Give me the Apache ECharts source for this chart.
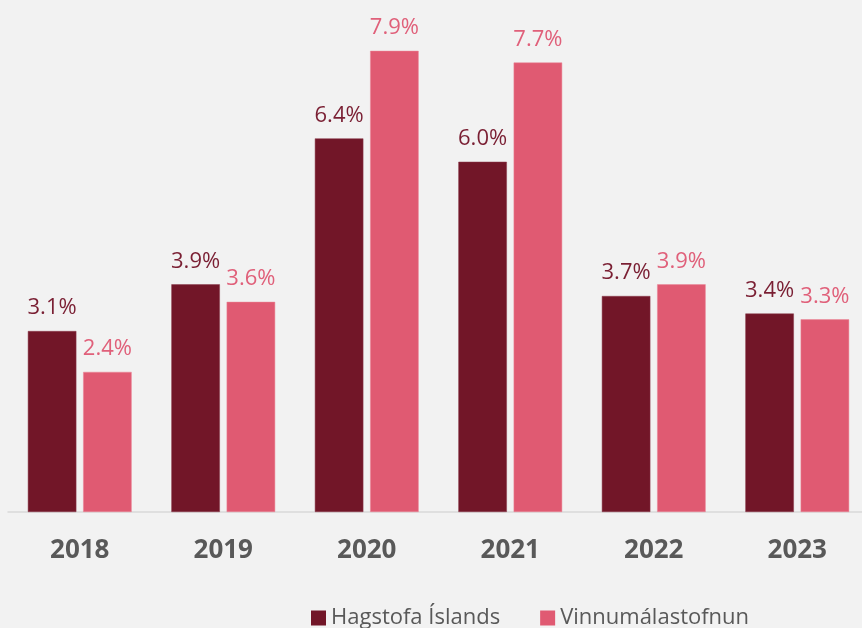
<!DOCTYPE html>
<html>
<head>
<meta charset="utf-8"/>
<script src="https://cdn.jsdelivr.net/npm/echarts@6/dist/echarts.min.js"></script>
<style>
  html, body { margin: 0; padding: 0; background: #f2f2f2; }
</style>
</head>
<body>
<div id="main" style="width: 862px; height: 628px;"></div>
<script type="text/javascript">
    var years = ['2018', '2019', '2020', '2021', '2022', '2023'];
    var hagstofa = [3.1, 3.9, 6.4, 6.0, 3.7, 3.4];
    var vinnumala = [2.4, 3.6, 7.9, 7.7, 3.9, 3.3];
    var seriesNames = ['Hagstofa Íslands', 'Vinnumálastofnun'];

    var myChart = echarts.init(document.getElementById('main'));

    var font = '"Open Sans", "Noto Sans", sans-serif';

    function barLabel(color) {
        return {
            show: true,
            position: 'top',
            distance: 12,
            color: color,
            fontFamily: font,
            fontSize: 22,
            formatter: function (p) { return p.value.toFixed(1) + '%'; }
        };
    }

    myChart.setOption({
        backgroundColor: '#f2f2f2',
        animation: false,
        grid: { left: 8, width: 861, top: 45, bottom: 116, outerBoundsMode: 'none' },
        legend: {
            top: 602,
            left: 306,
            icon: 'rect',
            itemWidth: 15,
            itemHeight: 15,
            itemGap: 40,
            itemStyle: { borderWidth: 0 },
            textStyle: { color: '#595959', fontFamily: font, fontSize: 22, padding: [0, 0, 0, 0] },
            data: seriesNames
        },
        xAxis: {
            type: 'category',
            data: years,
            axisLine: { lineStyle: { color: '#d9d9d9', width: 1.5 } },
            axisTick: { show: false },
            axisLabel: {
                color: '#595959', fontFamily: font, fontSize: 26, fontWeight: 'bold', margin: 26
            }
        },
        yAxis: {
            type: 'value', min: 0, max: 8, show: false,
            splitLine: { show: false }
        },
        series: [
            {
                name: seriesNames[0],
                type: 'bar',
                data: hagstofa,
                barWidth: 48.5,
                barGap: '14%',
                itemStyle: { color: '#721628', borderColor: '#8a3a4a', borderWidth: 0.5 },
                label: barLabel('#7a1f33')
            },
            {
                name: seriesNames[1],
                type: 'bar',
                data: vinnumala,
                barWidth: 48.5,
                itemStyle: { color: '#e05a72', borderColor: '#ea8697', borderWidth: 0.5 },
                label: barLabel('#e0607a')
            }
        ]
    });
</script>
</body>
</html>
